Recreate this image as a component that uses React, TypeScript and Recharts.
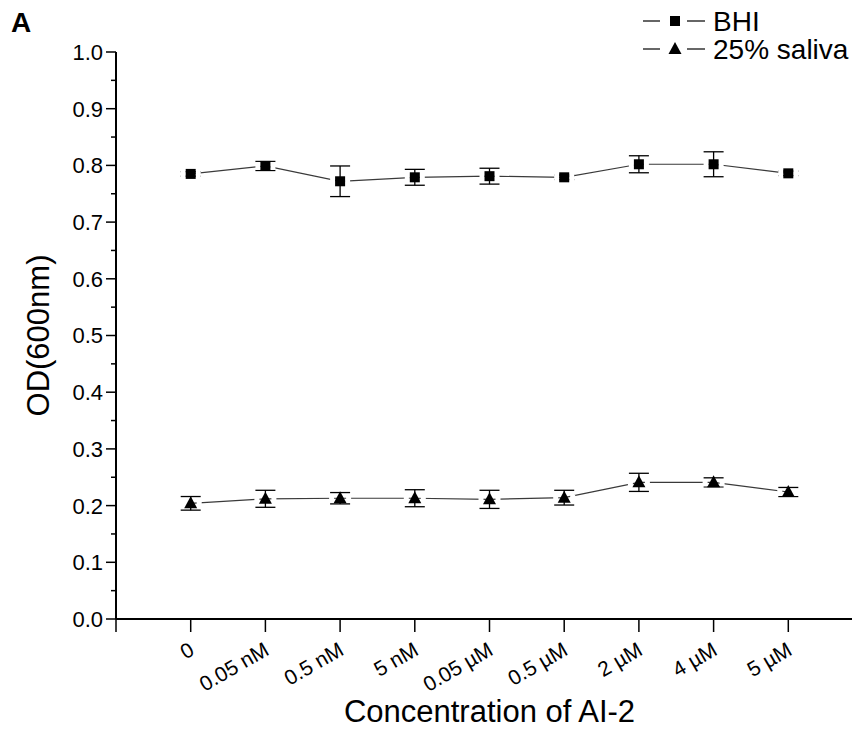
import React from "react";
import { LineChart, Line, XAxis, YAxis, ErrorBar, Legend } from "recharts";

// AI-2 concentrations on the x axis
const categories = ["0", "0.05 nM", "0.5 nM", "5 nM", "0.05 µM", "0.5 µM", "2 µM", "4 µM", "5 µM"];

// OD600 readings, mean and SD
const bhiMean = [0.785, 0.799, 0.772, 0.779, 0.781, 0.779, 0.802, 0.802, 0.786];
const bhiSd = [0.004, 0.008, 0.027, 0.014, 0.014, 0.004, 0.015, 0.022, 0.004];
const salivaMean = [0.204, 0.212, 0.213, 0.213, 0.211, 0.214, 0.241, 0.241, 0.224];
const salivaSd = [0.012, 0.015, 0.01, 0.015, 0.016, 0.013, 0.016, 0.008, 0.008];

const yMajor = [0, 0.1, 0.2, 0.3, 0.4, 0.5, 0.6, 0.7, 0.8, 0.9, 1.0];
const yTicks = yMajor.flatMap((v, i) => (i < yMajor.length - 1 ? [v, v + 0.05] : [v]));
const xTicks = [0, 1, 2, 3, 4, 5, 6, 7, 8, 9, 10];

const data = categories.map((c, i) => ({
  x: i + 1,
  label: c,
  bhi: bhiMean[i],
  bhiErr: bhiSd[i],
  saliva: salivaMean[i],
  salivaErr: salivaSd[i],
}));

const FONT = "'Liberation Sans', Arial, sans-serif";
const INK = "#000";
const LINE = "#3a3a3a";

function YTick({ x, y, payload }: any) {
  const v = payload.value;
  const major = Math.round(v * 100) % 10 === 0;
  return (
    <g>
      <line x1={x - (major ? 10 : 5)} x2={x} y1={y} y2={y} stroke={INK} strokeWidth={1.5} />
      {major && (
        <text x={x - 13} y={y} dy="0.36em" textAnchor="end" fontSize={22} fontFamily={FONT} fill={INK}>
          {v.toFixed(1)}
        </text>
      )}
    </g>
  );
}

function XTick({ x, y, payload }: any) {
  const label = categories[payload.value - 1];
  const ax = x + 5;
  const ay = y + 35;
  return (
    <g>
      <line x1={x} x2={x} y1={y} y2={y + 13} stroke={INK} strokeWidth={1.5} />
      {label && (
        <text
          x={ax}
          y={ay}
          textAnchor="end"
          fontSize={21}
          fontFamily={FONT}
          fill={INK}
          transform={`rotate(-30, ${ax}, ${ay})`}
        >
          {label}
        </text>
      )}
    </g>
  );
}

// white side patches give the small gap between the connecting line and the marker
function SquareDot({ cx, cy }: any) {
  if (cx == null || cy == null) return null;
  return (
    <g>
      <rect x={cx - 10} y={cy - 4} width={5} height={8} fill="#fff" />
      <rect x={cx + 5} y={cy - 4} width={5} height={8} fill="#fff" />
      <rect x={cx - 5} y={cy - 5} width={10} height={10} fill={INK} />
    </g>
  );
}

function TriangleDot({ cx, cy }: any) {
  if (cx == null || cy == null) return null;
  return (
    <g>
      <rect x={cx - 11} y={cy - 3} width={5} height={7} fill="#fff" />
      <rect x={cx + 6} y={cy - 3} width={5} height={7} fill="#fff" />
      <path d={`M${cx},${cy - 7} L${cx + 6.5},${cy + 5} L${cx - 6.5},${cy + 5} Z`} fill={INK} />
    </g>
  );
}

function LegendBox() {
  const rows = [
    { name: "BHI", shape: "square" },
    { name: "25% saliva", shape: "triangle" },
  ];
  return (
    <svg width={217} height={66}>
      {rows.map((r, i) => {
        const cy = 21 + i * 28;
        return (
          <g key={r.name}>
            <line x1={0} x2={17} y1={cy} y2={cy} stroke={INK} strokeWidth={1.2} />
            <line x1={44} x2={62} y1={cy} y2={cy} stroke={INK} strokeWidth={1.2} />
            {r.shape === "square" ? (
              <rect x={27} y={cy - 5} width={10} height={10} fill={INK} />
            ) : (
              <path d={`M32,${cy - 7} L38.5,${cy + 5} L25.5,${cy + 5} Z`} fill={INK} />
            )}
            <text x={70} y={cy} dy="0.36em" fontSize={28} fontFamily={FONT} fill={INK}>
              {r.name}
            </text>
          </g>
        );
      })}
    </svg>
  );
}

export default function App() {
  return (
    <div style={{ position: "relative", margin: -8, width: 860, height: 744, overflow: "hidden", background: "#fff" }}>
      <div
        style={{
          position: "absolute",
          left: 11,
          top: 9,
          lineHeight: 1,
          fontFamily: FONT,
          fontWeight: "bold",
          fontSize: 28,
          zIndex: 2,
        }}
      >
        A
      </div>
      <LineChart width={878} height={744} data={data} margin={{ top: 52, right: 15, left: 0, bottom: 0 }}>
        <XAxis
          type="number"
          dataKey="x"
          domain={[0, 10]}
          ticks={xTicks}
          interval={0}
          tickSize={0}
          tickMargin={0}
          tick={<XTick />}
          axisLine={{ stroke: INK, strokeWidth: 2 }}
          height={125}
          label={{ value: "Concentration of AI-2", position: "insideBottom", offset: 22, fontSize: 31, fontFamily: FONT, fill: INK }}
        />
        <YAxis
          type="number"
          domain={[0, 1]}
          ticks={yTicks}
          interval={0}
          width={116}
          tickSize={0}
          tickMargin={0}
          tick={<YTick />}
          axisLine={{ stroke: INK, strokeWidth: 2 }}
          label={{ value: "OD(600nm)", angle: -90, position: "center", dx: -20, fontSize: 31, fontFamily: FONT, fill: INK }}
        />
        <Legend
          layout="vertical"
          align="center"
          verticalAlign="middle"
          wrapperStyle={{ position: "absolute", left: 643, top: 0, width: 217 }}
          content={() => <LegendBox />}
        />
        <Line
          dataKey="bhi"
          stroke={LINE}
          strokeWidth={1.2}
          isAnimationActive={false}
          dot={<SquareDot />}
          activeDot={false}
        >
          <ErrorBar dataKey="bhiErr" width={10} stroke={INK} strokeWidth={1.3} direction="y" />
        </Line>
        <Line
          dataKey="saliva"
          stroke={LINE}
          strokeWidth={1.2}
          isAnimationActive={false}
          dot={<TriangleDot />}
          activeDot={false}
        >
          <ErrorBar dataKey="salivaErr" width={10} stroke={INK} strokeWidth={1.3} direction="y" />
        </Line>
      </LineChart>
    </div>
  );
}
